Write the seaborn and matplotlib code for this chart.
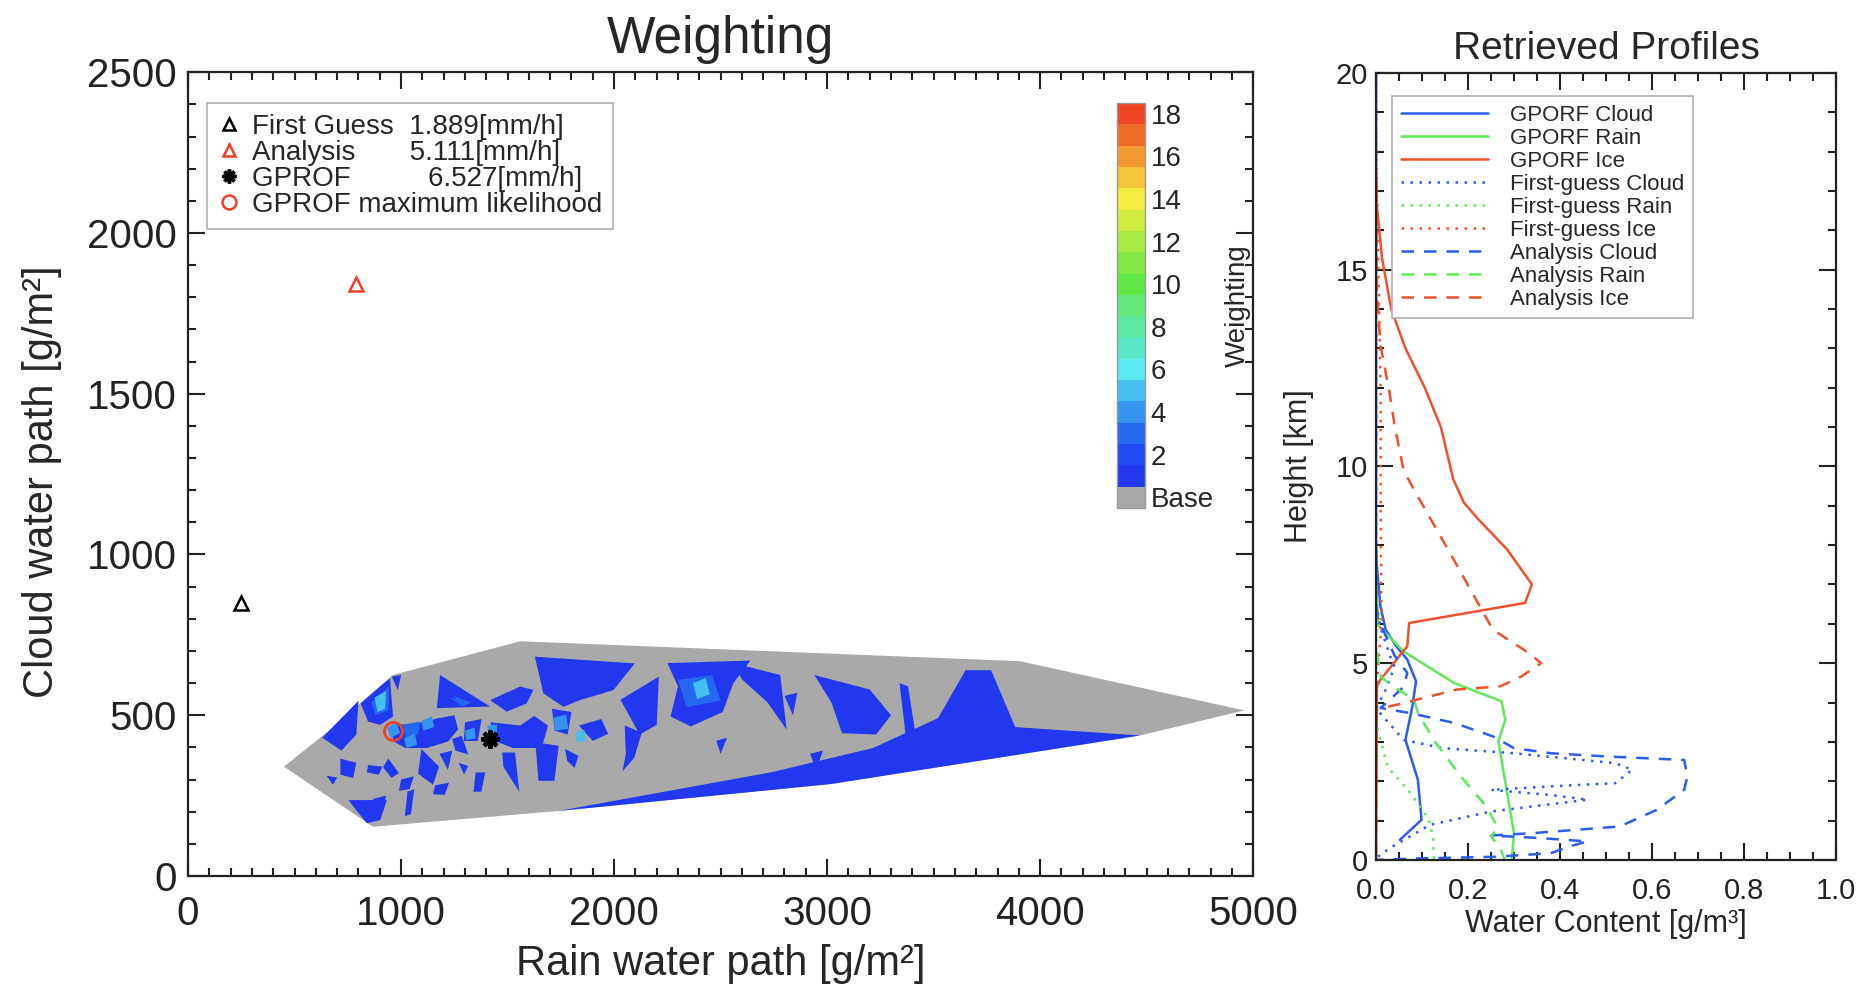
import matplotlib
matplotlib.use('Agg')
import matplotlib.pyplot as plt
from matplotlib.colors import ListedColormap, BoundaryNorm
from matplotlib.cm import ScalarMappable
from matplotlib.lines import Line2D
from matplotlib.ticker import MultipleLocator, FormatStrFormatter
import numpy as np
import seaborn as sns

# ---------------- left panel data (rain / cloud water path, g/m2) ----------------
hull_rwp = [450, 667, 960, 1560, 3906, 4958, 4470, 3019, 1737, 868]
hull_cwp = [340, 455, 625, 730, 668, 515, 437, 286, 202, 153]

# weighting patches: level, rwp vertices, cwp vertices
patch_level = [1, 1, 1, 1, 1, 1, 1,
               1, 1, 1, 1, 1, 1,
               1, 1, 1, 1, 1, 1, 1, 1, 1, 1, 1, 1, 1, 1, 1, 1, 1, 1, 1, 1, 1,
               1, 1, 1, 1,
               3, 3, 3, 3,
               5, 4, 3, 4, 4, 4, 4, 5, 4, 5]
patch_rwp = [
    [1737, 2742, 3216, 3521, 3650, 3770, 3883, 4470, 3019],
    [1628, 2097, 1997, 1840, 1762, 1668],
    [2250, 2640, 2560, 2510, 2360, 2265, 2300],
    [2560, 2780, 2810, 2720, 2600],
    [2940, 3200, 3300, 3230, 3070, 3020],
    [3340, 3380, 3420, 3370],
    [2030, 2210, 2200, 2120],
    [630, 800, 790, 720],
    [810, 948, 962, 902, 845],
    [956, 1000, 985],
    [1183, 1418, 1168],
    [1418, 1559, 1621, 1590, 1496],
    [715, 790, 775, 715],
    [650, 700, 680],
    [753, 933, 902, 839, 776],
    [845, 912, 896, 840],
    [940, 990, 955, 915],
    [1095, 1178, 1150, 1080],
    [1160, 1225, 1205, 1150],
    [1030, 1062, 1046, 1018],
    [1350, 1395, 1377, 1340],
    [1475, 1535, 1555, 1512, 1480],
    [1630, 1740, 1720, 1645],
    [1770, 1832, 1815, 1780],
    [1240, 1285, 1315, 1255],
    [1270, 1315, 1296],
    [2050, 2130, 2095, 2040, 2055],
    [1835, 1940, 1972, 1900],
    [1420, 1560, 1625, 1690, 1660, 1525, 1440],
    [965, 1105, 1170, 1250, 1268, 1220, 1120, 1020, 960],
    [1300, 1378, 1360, 1295],
    [1708, 1800, 1782, 1722],
    [2920, 2980, 2950],
    [2480, 2530, 2500],
    [2800, 2860, 2840],
    [1000, 1060, 1040, 990],
    [870, 930, 915, 860],
    [1180, 1240, 1220],
    [860, 945, 940, 880],
    [2300, 2460, 2500, 2340],
    [1230, 1330, 1290],
    [1010, 1090, 1080, 1020],
    [875, 930, 925, 890],
    [935, 978, 995, 950],
    [1250, 1320, 1280],
    [1015, 1065, 1075, 1025],
    [1095, 1145, 1155, 1105],
    [1300, 1345, 1350, 1305],
    [1405, 1450, 1450, 1410],
    [2370, 2430, 2450, 2390],
    [1715, 1775, 1785, 1725],
    [1820, 1860, 1865, 1825],
]
patch_cwp = [
    [202, 323, 398, 491, 640, 640, 463, 437, 286],
    [682, 661, 578, 547, 526, 568],
    [662, 670, 600, 510, 465, 496, 590],
    [662, 625, 455, 540, 612],
    [625, 580, 500, 440, 444, 540],
    [600, 590, 420, 430],
    [548, 620, 470, 440],
    [430, 545, 440, 390],
    [537, 615, 496, 470, 480],
    [620, 625, 578],
    [625, 527, 522],
    [547, 589, 579, 537, 511],
    [365, 352, 305, 315],
    [312, 306, 284],
    [236, 236, 174, 164, 216],
    [345, 340, 315, 322],
    [365, 320, 305, 338],
    [395, 340, 284, 318],
    [282, 290, 252, 254],
    [262, 270, 192, 186],
    [322, 322, 262, 262],
    [384, 384, 262, 306, 340],
    [416, 405, 296, 296],
    [395, 374, 336, 358],
    [426, 436, 378, 390],
    [352, 342, 316],
    [468, 446, 368, 326, 380],
    [468, 488, 442, 420],
    [478, 468, 498, 468, 398, 398, 420],
    [468, 478, 490, 500, 456, 418, 398, 398, 420],
    [478, 488, 420, 420],
    [520, 510, 440, 452],
    [380, 390, 330],
    [420, 430, 380],
    [560, 570, 500],
    [300, 310, 270, 265],
    [240, 250, 200, 195],
    [380, 390, 330],
    [540, 590, 515, 500],
    [610, 625, 545, 525],
    [555, 540, 528],
    [470, 480, 440, 430],
    [555, 575, 520, 510],
    [462, 478, 445, 428],
    [560, 540, 530],
    [428, 442, 408, 398],
    [482, 497, 463, 452],
    [452, 462, 428, 422],
    [467, 472, 443, 438],
    [600, 615, 565, 550],
    [492, 502, 458, 452],
    [445, 455, 420, 415],
]

# retrieved points
first_guess_rwp, first_guess_cwp = [250], [850]
analysis_rwp, analysis_cwp = [790], [1840]
gprof_rwp, gprof_cwp = [1418], [425]
gprof_ml_rwp, gprof_ml_cwp = [962], [452]

legend_labels = ['First Guess  1.889[mm/h]',
                 'Analysis       5.111[mm/h]',
                 'GPROF          6.527[mm/h]',
                 'GPROF maximum likelihood']

base_color = '#a9a9a9'
level_colors = ['#2238ee', '#1f4af2', '#2468f0', '#3494f0', '#44c0f0', '#58ecf2',
                '#58e8c8', '#58e8a0', '#60e878', '#60e848', '#80e840', '#a8ea40',
                '#d0ee40', '#f4ec40', '#f6c438', '#f49830', '#f06a28', '#ee4522']
cbar_ticks = [0.5, 2.5, 4.5, 6.5, 8.5, 10.5, 12.5, 14.5, 16.5, 18.5]
cbar_labels = ['Base', '2', '4', '6', '8', '10', '12', '14', '16', '18']

# ---------------- right panel data (water content g/m3 vs height km) ----------------
gprof_cloud_wc = [0, 0, 0.002, 0.0095, 0.021, 0.044, 0.068, 0.087, 0.079, 0.064, 0.091, 0.099, 0.052]
gprof_cloud_h = [20, 8.0, 7.46, 6.45, 5.85, 5.43, 5.09, 4.54, 3.90, 3.05, 2.04, 1.02, 0.51]
gprof_rain_wc = [0, 0, 0.006, 0.06, 0.169, 0.273, 0.281, 0.266, 0.30, 0.295]
gprof_rain_h = [8.0, 7.0, 5.94, 5.3, 4.5, 4.03, 3.56, 3.01, 0.68, 0.0]
gprof_ice_wc = [0, 0.002, 0.013, 0.033, 0.064, 0.106, 0.141, 0.168, 0.191, 0.223, 0.285,
                0.339, 0.324, 0.072, 0.068, 0.056, 0.033, 0.0095, 0.002, 0.0]
gprof_ice_h = [17.5, 16.6, 15.3, 14.0, 13.0, 12.0, 11.0, 9.67, 9.08, 8.65, 7.89,
               7.0, 6.53, 6.02, 5.43, 5.26, 4.92, 4.58, 4.41, 0.0]
fg_cloud_wc = [0, 0, 0.01, 0.03, 0.04, 0.02, 0.0, 0.06, 0.145, 0.30, 0.52, 0.557,
               0.52, 0.38, 0.25, 0.38, 0.46, 0.25, 0.117, 0.03, 0.0]
fg_cloud_h = [20, 6.5, 5.9, 5.2, 4.9, 4.3, 3.85, 3.05, 2.84, 2.71, 2.46, 2.29,
              1.95, 1.87, 1.78, 1.65, 1.53, 1.23, 0.89, 0.3, 0.05]
fg_rain_wc = [0, 0, 0.025, 0.075, 0.115, 0.124, 0.126]
fg_rain_h = [7.0, 3.5, 2.37, 1.70, 1.02, 0.59, 0.0]
fg_ice_wc = [0, 0.005, 0.01, 0.01, 0.012, 0.005, 0]
fg_ice_h = [18.5, 15, 12, 9, 6, 5, 4]
an_cloud_wc = [0.0, 0.002, 0.04, 0.068, 0.06, 0.03, 0.01, 0.075, 0.17, 0.254, 0.30, 0.38,
               0.50, 0.67, 0.677, 0.67, 0.61, 0.53, 0.43, 0.34, 0.25, 0.35, 0.46, 0.42,
               0.38, 0.26, 0.1, 0.0]
an_cloud_h = [7.0, 6.2, 5.2, 4.75, 4.4, 4.07, 3.86, 3.73, 3.48, 3.14, 2.84, 2.71,
              2.63, 2.54, 2.12, 1.78, 1.27, 0.85, 0.76, 0.68, 0.62, 0.56, 0.47, 0.34,
              0.17, 0.08, 0.04, 0.0]
an_rain_wc = [0, 0, 0.01, 0.037, 0.083, 0.091, 0.13, 0.19, 0.24, 0.265, 0.25, 0.27, 0.28]
an_rain_h = [7.0, 5.5, 4.66, 4.41, 4.07, 3.73, 2.97, 2.04, 1.36, 0.81, 0.6, 0.3, 0.0]
an_ice_wc = [0, 0.002, 0.0095, 0.029, 0.041, 0.060, 0.083, 0.169, 0.254, 0.332, 0.359,
             0.316, 0.27, 0.176, 0.044, 0.013, 0.0, 0.0]
an_ice_h = [16.5, 14.4, 13.1, 11.9, 11.0, 9.9, 9.4, 7.63, 5.85, 5.26, 5.0,
            4.66, 4.41, 4.33, 3.94, 3.86, 3.82, 0.0]

blue, green, red = '#2c5cf0', '#5ee85a', '#f0502e'
dotted, dashed = (0, (1, 2.6)), (0, (5, 4))

profiles = [
    ('GPORF Cloud', gprof_cloud_wc, gprof_cloud_h, blue, '-'),
    ('GPORF Rain', gprof_rain_wc, gprof_rain_h, green, '-'),
    ('GPORF Ice', gprof_ice_wc, gprof_ice_h, red, '-'),
    ('First-guess Cloud', fg_cloud_wc, fg_cloud_h, blue, dotted),
    ('First-guess Rain', fg_rain_wc, fg_rain_h, green, dotted),
    ('First-guess Ice', fg_ice_wc, fg_ice_h, red, dotted),
    ('Analysis Cloud', an_cloud_wc, an_cloud_h, blue, dashed),
    ('Analysis Rain', an_rain_wc, an_rain_h, green, dashed),
    ('Analysis Ice', an_ice_wc, an_ice_h, red, dashed),
]

sns.set_theme(style='ticks')
plt.rcParams['font.family'] = ['Liberation Sans', 'DejaVu Sans']

fig = plt.figure(figsize=(18.62, 9.85), dpi=100)
ax = fig.add_axes([0.101, 0.1107, 0.572, 0.816])
ax2 = fig.add_axes([0.739, 0.127, 0.247, 0.799])
cax = fig.add_axes([0.600, 0.4843, 0.015, 0.411])

cmap = ListedColormap([base_color] + level_colors)
norm = BoundaryNorm(np.arange(0, 20), cmap.N)

# ---- left panel ----
ax.fill(hull_rwp, hull_cwp, color=cmap(norm(0.5)), lw=0, zorder=1)
for lev, xs, ys in zip(patch_level, patch_rwp, patch_cwp):
    ax.fill(xs, ys, color=cmap(norm(lev + 0.5)), lw=0, zorder=2)

ax.plot(first_guess_rwp, first_guess_cwp, ls='none', marker='^', ms=10, mfc='none', mec='black', mew=1.8, zorder=5)
ax.plot(analysis_rwp, analysis_cwp, ls='none', marker='^', ms=10, mfc='none', mec='#f0402a', mew=1.8, zorder=5)
ax.plot(gprof_rwp, gprof_cwp, ls='none', marker=(8, 2, 0), ms=13, mec='black', mew=3, zorder=5)
ax.plot(gprof_ml_rwp, gprof_ml_cwp, ls='none', marker='o', ms=13, mfc='none', mec='#f0402a', mew=2, zorder=5)

handles = [
    Line2D([], [], ls='none', marker='^', ms=9, mfc='none', mec='black', mew=1.8),
    Line2D([], [], ls='none', marker='^', ms=9, mfc='none', mec='#f0402a', mew=1.8),
    Line2D([], [], ls='none', marker=(8, 2, 0), ms=10, mec='black', mew=2.5),
    Line2D([], [], ls='none', marker='o', ms=10, mfc='none', mec='#f0402a', mew=1.8),
]
leg = ax.legend(handles, legend_labels, loc='upper left', bbox_to_anchor=(0.018, 0.962),
                borderaxespad=0, fontsize=20, labelspacing=0.0, handlelength=0.8,
                handletextpad=0.4, borderpad=0.4, fancybox=False, edgecolor='#b0b0b0', framealpha=1)
leg.get_frame().set_linewidth(1.2)

ax.set_xlim(0, 5000)
ax.set_ylim(0, 2500)
ax.xaxis.set_major_locator(MultipleLocator(1000))
ax.xaxis.set_minor_locator(MultipleLocator(100))
ax.yaxis.set_major_locator(MultipleLocator(500))
ax.yaxis.set_minor_locator(MultipleLocator(100))
ax.tick_params(which='both', direction='in', top=True, right=True, width=1.5, colors='#222222')
ax.tick_params(which='major', length=12, labelsize=29)
ax.tick_params(which='minor', length=6)
ax.tick_params(axis='x', which='major', pad=14)
ax.tick_params(axis='y', which='major', pad=8)
ax.set_title('Weighting', fontsize=37, pad=14)
ax.set_xlabel('Rain water path [g/m²]', fontsize=30)
ax.set_ylabel('Cloud water path [g/m²]', fontsize=30)
ax.xaxis.set_label_coords(0.5, -0.085)
ax.yaxis.set_label_coords(-0.118, 0.49)
for s in ax.spines.values():
    s.set_linewidth(1.6)
    s.set_color('#222222')

cb = fig.colorbar(ScalarMappable(norm=norm, cmap=cmap), cax=cax, ticks=cbar_ticks)
cb.ax.set_yticklabels(cbar_labels)
cb.ax.minorticks_off()
cb.ax.tick_params(which='both', length=0, width=0, labelsize=20, pad=4)
cb.outline.set_edgecolor('#999999')
cb.outline.set_linewidth(1)
cb.set_label('Weighting', fontsize=20, labelpad=8)

# ---- right panel ----
for label, wc, h, color, style in profiles:
    sns.lineplot(x=wc, y=h, sort=False, estimator=None, color=color, linestyle=style,
                 linewidth=1.8, label=label, ax=ax2)

ax2.set_xlim(0, 1)
ax2.set_ylim(0, 20)
ax2.xaxis.set_major_locator(MultipleLocator(0.2))
ax2.xaxis.set_minor_locator(MultipleLocator(0.05))
ax2.xaxis.set_major_formatter(FormatStrFormatter('%.1f'))
ax2.yaxis.set_major_locator(MultipleLocator(5))
ax2.yaxis.set_minor_locator(MultipleLocator(1))
ax2.tick_params(which='both', direction='in', top=True, right=True, width=1.5, colors='#222222')
ax2.tick_params(which='major', length=12, labelsize=21)
ax2.tick_params(which='minor', length=6)
ax2.tick_params(axis='x', which='major', pad=12)
ax2.tick_params(axis='y', which='major', pad=6)
ax2.set_title('Retrieved Profiles', fontsize=28, pad=10)
ax2.set_xlabel('Water Content [g/m³]', fontsize=22)
ax2.set_ylabel('Height [km]', fontsize=22)
ax2.xaxis.set_label_coords(0.5, -0.062)
ax2.yaxis.set_label_coords(-0.135, 0.5)
for s in ax2.spines.values():
    s.set_linewidth(1.6)
    s.set_color('#222222')

leg2 = ax2.legend(loc='upper left', bbox_to_anchor=(0.035, 0.971), borderaxespad=0,
                  fontsize=16, labelspacing=0.09, handlelength=3.9, handletextpad=1.0,
                  borderpad=0.4, fancybox=False, edgecolor='#b0b0b0', framealpha=1)
leg2.get_frame().set_linewidth(1.2)

fig.savefig('out.png', dpi=100)
